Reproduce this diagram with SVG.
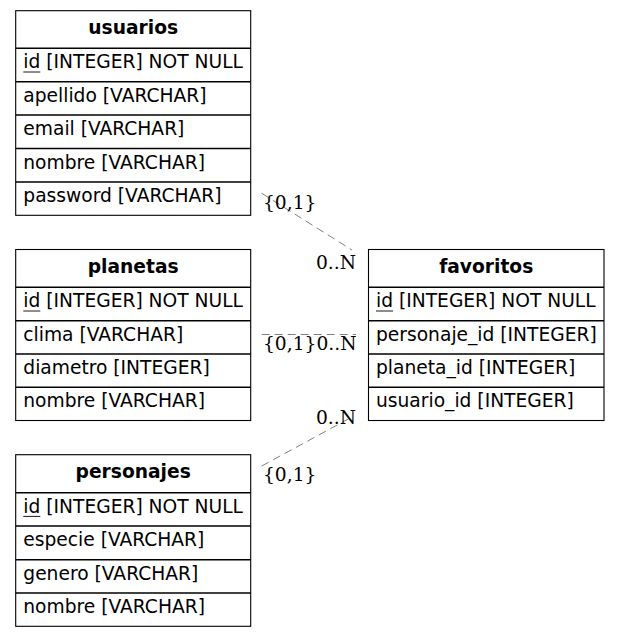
<svg xmlns="http://www.w3.org/2000/svg" width="620" height="637" viewBox="0 0 620 637">
<style>
.box{fill:#fff;stroke:#000;stroke-width:1.1}
.sep{stroke:#000;stroke-width:1.4}
.ul{stroke:#000;stroke-width:0.9}
.hdr{font-family:"DejaVu Sans",sans-serif;font-size:18.67px;font-weight:bold;text-anchor:middle;fill:#000}
.row{font-family:"DejaVu Sans",sans-serif;font-size:18.67px;fill:#000}
.lbl{font-family:"DejaVu Serif",serif;font-size:18.67px;fill:#000}
.edge{fill:none;stroke:#808080;stroke-width:1;stroke-dasharray:8,5}
</style>
<rect width="620" height="637" fill="#fff"/>
<g id="connectors">
<line class="edge" x1="261.7" y1="193.3" x2="352" y2="250"/>
<text class="lbl" x="263" y="209">{0,1}</text>
<text class="lbl" x="356" y="268.5" text-anchor="end">0..N</text>
<line class="edge" x1="261.7" y1="334.5" x2="356" y2="334.5"/>
<text class="lbl" x="263" y="349.5">{0,1}0..N</text>
<line class="edge" x1="261.7" y1="466" x2="352" y2="417"/>
<text class="lbl" x="356" y="423.5" text-anchor="end">0..N</text>
<text class="lbl" x="263" y="481">{0,1}</text>
</g>
<g id="usuarios">
<rect class="box" x="15.7" y="10.7" width="235" height="204.6"/>
<line class="sep" x1="15.7" y1="48.3" x2="250.7" y2="48.3"/>
<line class="sep" x1="15.7" y1="81.7" x2="250.7" y2="81.7"/>
<line class="sep" x1="15.7" y1="115" x2="250.7" y2="115"/>
<line class="sep" x1="15.7" y1="148.5" x2="250.7" y2="148.5"/>
<line class="sep" x1="15.7" y1="182" x2="250.7" y2="182"/>
<text class="hdr" x="133.2" y="34.3">usuarios</text>
<text class="row" x="23.3" y="68.3">id [INTEGER] NOT NULL</text>
<line class="ul" x1="23.3" y1="72" x2="40.3" y2="72"/>
<text class="row" x="23.3" y="101.7">apellido [VARCHAR]</text>
<text class="row" x="23.3" y="135">email [VARCHAR]</text>
<text class="row" x="23.3" y="168.5">nombre [VARCHAR]</text>
<text class="row" x="23.3" y="202">password [VARCHAR]</text>
</g>
<g id="planetas">
<rect class="box" x="15.7" y="249.5" width="235" height="171"/>
<line class="sep" x1="15.7" y1="287.3" x2="250.7" y2="287.3"/>
<line class="sep" x1="15.7" y1="320.7" x2="250.7" y2="320.7"/>
<line class="sep" x1="15.7" y1="354" x2="250.7" y2="354"/>
<line class="sep" x1="15.7" y1="387.3" x2="250.7" y2="387.3"/>
<text class="hdr" x="133.2" y="273">planetas</text>
<text class="row" x="23.3" y="307.3">id [INTEGER] NOT NULL</text>
<line class="ul" x1="23.3" y1="311" x2="40.3" y2="311"/>
<text class="row" x="23.3" y="340.7">clima [VARCHAR]</text>
<text class="row" x="23.3" y="374">diametro [INTEGER]</text>
<text class="row" x="23.3" y="407.3">nombre [VARCHAR]</text>
</g>
<g id="personajes">
<rect class="box" x="15.7" y="454.7" width="235" height="171.6"/>
<line class="sep" x1="15.7" y1="492.7" x2="250.7" y2="492.7"/>
<line class="sep" x1="15.7" y1="526" x2="250.7" y2="526"/>
<line class="sep" x1="15.7" y1="559.7" x2="250.7" y2="559.7"/>
<line class="sep" x1="15.7" y1="593" x2="250.7" y2="593"/>
<text class="hdr" x="133.2" y="478.3">personajes</text>
<text class="row" x="23.3" y="512.7">id [INTEGER] NOT NULL</text>
<line class="ul" x1="23.3" y1="516.4" x2="40.3" y2="516.4"/>
<text class="row" x="23.3" y="546">especie [VARCHAR]</text>
<text class="row" x="23.3" y="579.7">genero [VARCHAR]</text>
<text class="row" x="23.3" y="613">nombre [VARCHAR]</text>
</g>
<g id="favoritos">
<rect class="box" x="368.5" y="249.5" width="235.5" height="171"/>
<line class="sep" x1="368.5" y1="287.3" x2="604" y2="287.3"/>
<line class="sep" x1="368.5" y1="320.7" x2="604" y2="320.7"/>
<line class="sep" x1="368.5" y1="354" x2="604" y2="354"/>
<line class="sep" x1="368.5" y1="387.3" x2="604" y2="387.3"/>
<text class="hdr" x="486.2" y="273">favoritos</text>
<text class="row" x="376" y="307.3">id [INTEGER] NOT NULL</text>
<line class="ul" x1="376" y1="311" x2="393" y2="311"/>
<text class="row" x="376" y="340.7">personaje_id [INTEGER]</text>
<text class="row" x="376" y="374">planeta_id [INTEGER]</text>
<text class="row" x="376" y="407.3">usuario_id [INTEGER]</text>
</g>
</svg>
